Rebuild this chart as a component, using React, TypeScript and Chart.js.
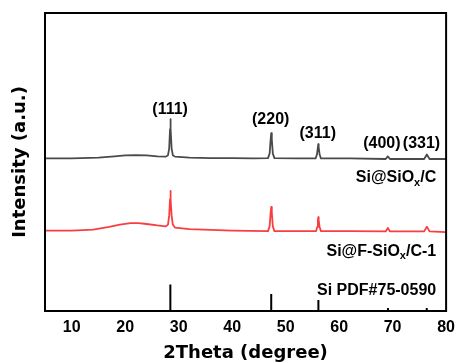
import React, { useEffect, useRef } from "react";
import { Chart, registerables } from "chart.js";

Chart.register(...registerables);

// ---- data ----
const xTickValues = [10, 20, 30, 40, 50, 60, 70, 80];

// Si@SiOx/C (dark gray), 2θ (deg) and plotted intensity (a.u., offset included)
const grayTheta = [5, 10, 15, 18, 20, 22, 24, 26, 27.6, 28.0, 28.22, 28.38, 28.45, 28.52, 28.68, 28.9, 29.3, 32, 36, 40, 44, 46.7, 47.0, 47.19, 47.3, 47.41, 47.6, 47.9, 52, 55.6, 55.85, 56.03, 56.1, 56.17, 56.35, 56.6, 62, 68.7, 69.1, 69.5, 75.9, 76.4, 76.9, 80];
const grayIntensity = [512, 512, 515, 519, 522, 523, 522, 519, 518, 523, 545, 610, 644, 610, 545, 523, 518, 515, 513, 513, 512, 513, 528, 575, 597, 575, 528, 513, 512, 512, 525, 550, 560, 550, 525, 512, 512, 510, 519, 510, 510, 525, 510, 510];

// Si@F-SiOx/C-1 (red)
const redTheta = [5, 10, 14, 17, 19, 21, 22.5, 24, 26, 27.6, 28.0, 28.22, 28.38, 28.45, 28.52, 28.68, 28.9, 29.3, 32, 36, 40, 46.7, 47.0, 47.19, 47.3, 47.41, 47.6, 47.9, 52, 55.7, 55.9, 56.03, 56.1, 56.17, 56.35, 56.6, 62, 68.7, 69.1, 69.5, 75.9, 76.4, 76.9, 80];
const redIntensity = [270, 270, 273, 282, 290, 295, 295, 292, 287, 284, 290, 320, 375, 403, 375, 320, 290, 280, 275, 272, 270, 268, 284, 330, 349, 330, 284, 268, 268, 268, 282, 305, 315, 305, 282, 268, 268, 267, 279, 267, 267, 283, 267, 265];

// Si PDF#75-0590 reference lines
const pdfTheta = [28.44, 47.3, 56.12, 69.13, 76.38];
const pdfIntensity = [89, 57, 37, 10, 10];

// peak labels
const peakLabels = ["(111)", "(220)", "(311)", "(400)", "(331)"];
const peakLabelTheta = [28.4, 47.2, 56.0, 68.0, 75.4];
const peakLabelIntensity = [675, 641, 597, 562, 562];

// series names ("_x" marks the subscript x)
const seriesNames = ["Si@SiO_x/C", "Si@F-SiO_x/C-1", "Si PDF#75-0590"];
const seriesNameTheta = [78.15, 78.15, 78.15];
const seriesNameIntensity = [447, 201, 70];

const FONT = "'Liberation Sans', Arial, sans-serif";
const TITLE_FONT = "'DejaVu Sans', 'Liberation Sans', sans-serif";

const overlayPlugin = {
  id: "overlay",
  afterDatasetsDraw(chart: any) {
    const { ctx, chartArea, scales } = chart;
    const xs = scales.x;
    const ys = scales.y;
    ctx.save();
    // frame
    ctx.strokeStyle = "#000";
    ctx.lineWidth = 2;
    ctx.strokeRect(chartArea.left, chartArea.top, chartArea.right - chartArea.left, chartArea.bottom - chartArea.top);

    ctx.fillStyle = "#000";
    ctx.textBaseline = "middle";
    ctx.textAlign = "center";
    ctx.font = `bold 16px ${FONT}`;
    peakLabels.forEach((t, i) => {
      ctx.fillText(t, xs.getPixelForValue(peakLabelTheta[i]), ys.getPixelForValue(peakLabelIntensity[i]));
    });

    // series names, right aligned, with subscript
    ctx.textAlign = "left";
    seriesNames.forEach((name, i) => {
      const parts = name.split("_x");
      const main = `bold 16px ${FONT}`;
      const sub = `bold 11px ${FONT}`;
      const segs: { t: string; s: boolean }[] = [];
      parts.forEach((p, j) => {
        segs.push({ t: p, s: false });
        if (j < parts.length - 1) segs.push({ t: "x", s: true });
      });
      let total = 0;
      segs.forEach((sg) => {
        ctx.font = sg.s ? sub : main;
        total += ctx.measureText(sg.t).width;
      });
      let x = xs.getPixelForValue(seriesNameTheta[i]) - total;
      const y = ys.getPixelForValue(seriesNameIntensity[i]);
      segs.forEach((sg) => {
        ctx.font = sg.s ? sub : main;
        ctx.fillText(sg.t, x, sg.s ? y + 5 : y);
        x += ctx.measureText(sg.t).width;
      });
    });
    ctx.restore();
  },
};

export default function App() {
  const ref = useRef<HTMLCanvasElement | null>(null);

  useEffect(() => {
    if (!ref.current) return;
    const pdfPoints: { x: number; y: number | null }[] = [];
    pdfTheta.forEach((t, i) => {
      pdfPoints.push({ x: t, y: 0 });
      pdfPoints.push({ x: t, y: pdfIntensity[i] });
      pdfPoints.push({ x: t, y: null });
    });

    const chart = new Chart(ref.current, {
      type: "line",
      data: {
        datasets: [
          {
            label: "Si@SiOx/C",
            data: grayTheta.map((t, i) => ({ x: t, y: grayIntensity[i] })),
            borderColor: "#4a4a4a",
            borderWidth: 1.8,
            borderJoinStyle: "round",
            borderCapStyle: "round",
            pointRadius: 0,
            tension: 0,
          },
          {
            label: "Si@F-SiOx/C-1",
            data: redTheta.map((t, i) => ({ x: t, y: redIntensity[i] })),
            borderColor: "rgb(248,62,64)",
            borderWidth: 1.8,
            borderJoinStyle: "round",
            borderCapStyle: "round",
            pointRadius: 0,
            tension: 0,
          },
          {
            label: "Si PDF#75-0590",
            data: pdfPoints as any,
            borderColor: "#000",
            borderWidth: 2,
            pointRadius: 0,
            spanGaps: false,
          },
        ],
      },
      options: {
        animation: false,
        responsive: false,
        devicePixelRatio: 1,
        layout: { padding: { top: 13, right: 12, left: 0, bottom: 0 } },
        plugins: {
          legend: { display: false },
          tooltip: { enabled: false },
        },
        scales: {
          x: {
            type: "linear",
            min: 5,
            max: 80,
            grid: { display: false, drawTicks: false },
            border: { display: false },
            afterBuildTicks: (scale: any) => {
              scale.ticks = xTickValues.map((v) => ({ value: v }));
            },
            afterFit: (scale: any) => {
              scale.height = 52;
            },
            ticks: {
              color: "#000",
              padding: 7,
              maxRotation: 0,
              autoSkip: false,
              font: { family: FONT, size: 16, weight: "bold" },
            },
            title: {
              display: true,
              text: "2Theta (degree)",
              color: "#000",
              padding: { top: 0, bottom: 0 },
              font: { family: TITLE_FONT, size: 18, weight: "bold", lineHeight: 1.05 },
            },
          },
          y: {
            type: "linear",
            min: 0,
            max: 1000,
            grid: { display: false, drawTicks: false },
            border: { display: false },
            ticks: { display: false },
            afterFit: (scale: any) => {
              scale.width = 45;
            },
            title: {
              display: true,
              text: "Intensity (a.u.)",
              color: "#000",
              padding: { top: 11, bottom: 0 },
              font: { family: TITLE_FONT, size: 18, weight: "bold", lineHeight: 1.05 },
            },
          },
        },
      },
      plugins: [overlayPlugin],
    });
    return () => chart.destroy();
  }, []);

  return (
    <div style={{ position: "absolute", left: 0, top: 0, width: 462, height: 363, background: "#fff" }}>
      <canvas ref={ref} width={462} height={363} style={{ display: "block", width: 462, height: 363 }} />
    </div>
  );
}
